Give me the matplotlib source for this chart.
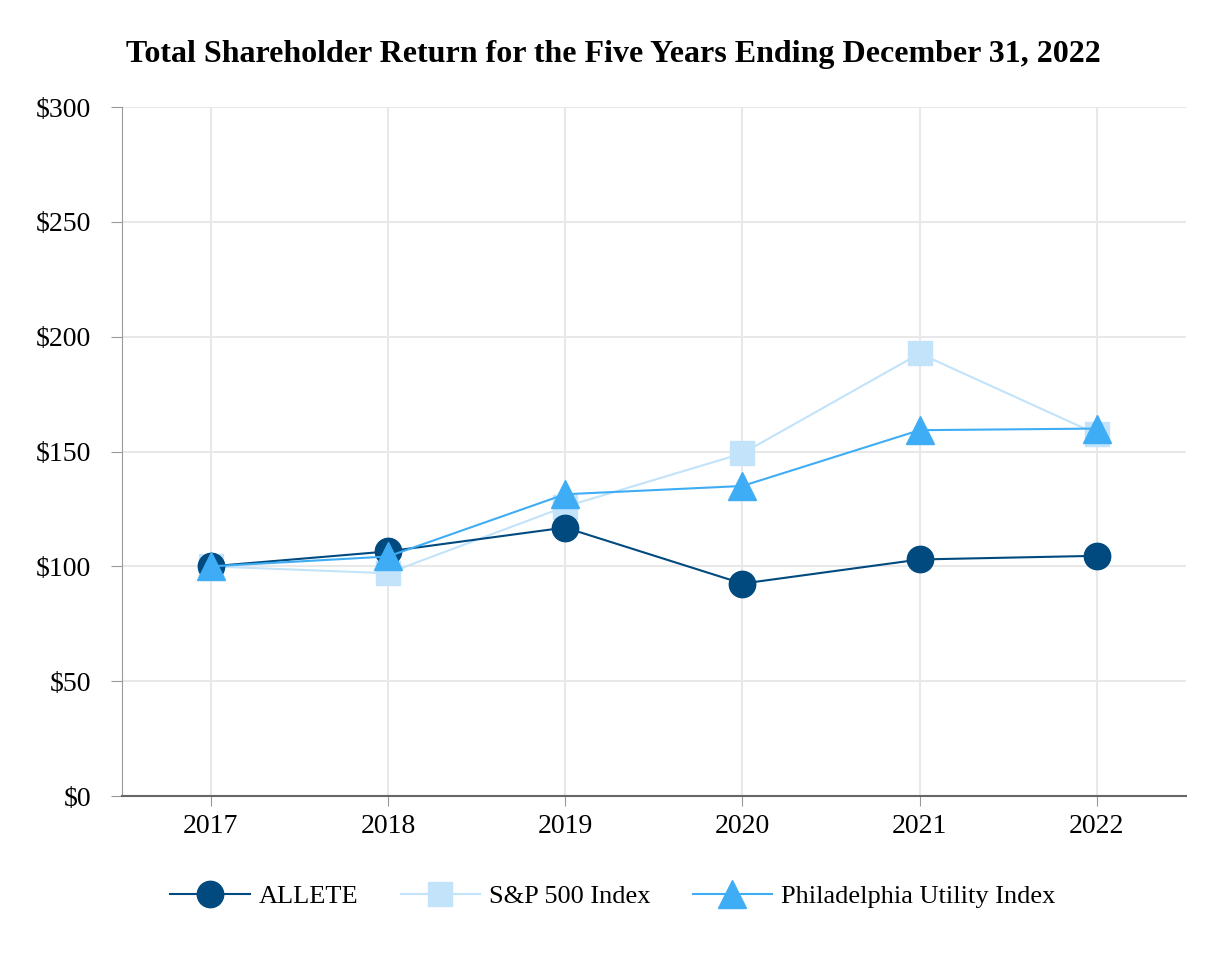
import matplotlib.pyplot as plt

# Data
years = [2017, 2018, 2019, 2020, 2021, 2022]
allete = [100, 106.5, 116.9, 92.5, 103.0, 104.6]
sp500 = [100, 97.0, 126.0, 149.2, 192.7, 157.6]
phila_utility = [100, 104.3, 131.4, 135.0, 159.3, 160.0]
y_ticks = [0, 50, 100, 150, 200, 250, 300]
y_labels = ['$0', '$50', '$100', '$150', '$200', '$250', '$300']

plt.rcParams['font.family'] = ['Liberation Serif', 'DejaVu Serif']

fig = plt.figure(figsize=(12.26, 9.6), dpi=100)
ax = fig.add_axes([0.0995, 0.1708, 0.8675, 0.7177])

ax.plot(years, allete, color='#004A7F', linewidth=1.5, marker='o',
        markersize=19, label='ALLETE', zorder=3)
ax.plot(years, sp500, color='#C2E3FA', linewidth=1.5, marker='s',
        markersize=17, label='S&P 500 Index', zorder=2)
ax.plot(years, phila_utility, color='#3EADF5', linewidth=1.5, marker='^',
        markersize=20, label='Philadelphia Utility Index', zorder=4)

ax.set_xlim(2016.5, 2022.5)
ax.set_ylim(0, 300)
ax.set_xticks(years)
ax.set_xticklabels([str(y) for y in years], fontsize=20)
ax.set_yticks(y_ticks)
ax.set_yticklabels(y_labels, fontsize=20)

ax.grid(True, color='#E8E8E8', linewidth=1.5)
ax.set_axisbelow(True)
for side in ['top', 'right']:
    ax.spines[side].set_visible(False)
ax.spines['left'].set_color('#999999')
ax.spines['bottom'].set_color('#666666')
ax.spines['bottom'].set_linewidth(1.5)
ax.tick_params(axis='y', length=8, color='#999999', pad=14)
ax.tick_params(axis='x', length=7, color='#999999', pad=6)

fig.suptitle('Total Shareholder Return for the Five Years Ending December 31, 2022',
             x=0.5, y=0.943, fontsize=23, fontweight='bold', va='center')

fig.legend(loc='center', bbox_to_anchor=(0.5, 0.066), ncol=3, frameon=False,
           fontsize=19, handlelength=3.0, columnspacing=1.6, handletextpad=0.35)

fig.savefig('out.png', dpi=100)
